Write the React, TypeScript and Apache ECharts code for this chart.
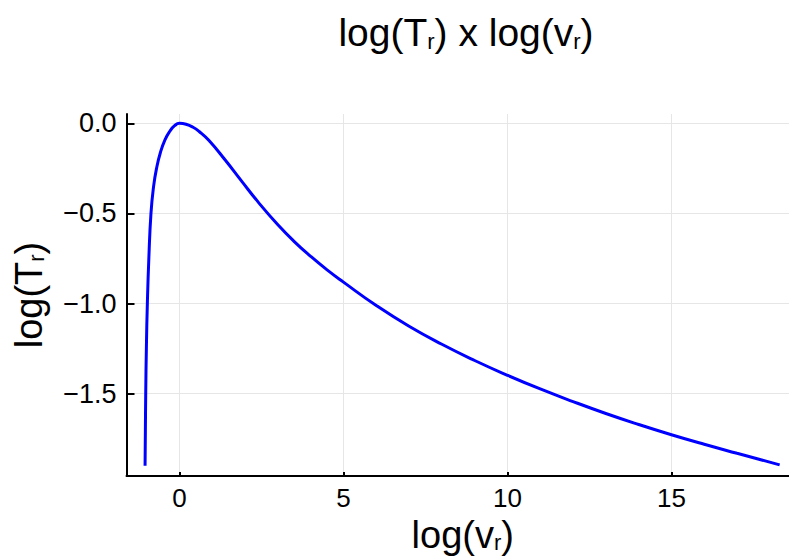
import React, { useEffect, useRef } from 'react';
import * as echarts from 'echarts';

// log(v_r) values
const logV = [
  -1.05, -1.04, -1.03, -1.01, -0.98, -0.935, -0.87, -0.79, -0.7, -0.58, -0.44, -0.3, -0.15, 0,
  0.2, 0.4, 0.6, 0.9, 1.4, 1.9, 2.4, 3.0, 3.5, 4.0, 4.5, 5.0, 6.0, 7.0, 8.0, 9.0, 10.0, 11.0, 12.0,
  13.0, 14.0, 15.0, 16.0, 17.0, 18.3,
];
// log(T_r) values
const logT = [
  -1.9, -1.7, -1.5, -1.25, -1.0, -0.75, -0.5, -0.35, -0.25, -0.16, -0.09, -0.045, -0.013, 0,
  -0.005, -0.02, -0.045, -0.095, -0.205, -0.322, -0.437, -0.563, -0.656, -0.738, -0.813, -0.881,
  -1.011, -1.126, -1.226, -1.316, -1.398, -1.474, -1.544, -1.61, -1.671, -1.728, -1.781, -1.831,
  -1.895,
];
const xTicks = [0, 5, 10, 15];
const yTicks = [-1.5, -1.0, -0.5, 0.0];

const FONT = 'Liberation Sans';

function richStyles(size: number, subSize: number) {
  return {
    a: { fontSize: size, fontFamily: FONT, fontWeight: 'normal', color: '#000', lineHeight: size },
    s: {
      fontSize: subSize,
      fontFamily: FONT,
      fontWeight: 'normal',
      color: '#000',
      lineHeight: subSize,
      verticalAlign: 'bottom',
    },
  };
}

export default function App() {
  const ref = useRef<HTMLDivElement>(null);
  useEffect(() => {
    document.body.style.margin = '0';
    const chart = echarts.init(ref.current!, null, { renderer: 'svg' });
    const minus = (s: string) => s.replace('-', '\u2212');
    chart.setOption({
      animation: false,
      backgroundColor: '#ffffff',
      title: {
        text: '{a|log(T}{s|r}{a|) x log(v}{s|r}{a|)}',
        left: 461,
        top: 8,
        textAlign: 'center',
        textStyle: { fontWeight: 'normal', rich: richStyles(39, 22) },
      },
      grid: {
        left: 126.5,
        top: 114,
        right: -10,
        bottom: 83,
        containLabel: false,
        outerBoundsMode: 'none',
      },
      xAxis: {
        type: 'value',
        min: -1.616,
        max: 18.89,
        name: '{a|log(v}{s|r}{a|)}',
        nameLocation: 'middle',
        nameGap: 37,
        nameTextStyle: { rich: richStyles(38, 22) },
        axisLine: { show: true, onZero: false, lineStyle: { color: '#000', width: 2 } },
        axisTick: { show: true, inside: true, length: 4, customValues: xTicks, lineStyle: { color: '#000', width: 2 } },
        axisLabel: {
          customValues: xTicks,
          fontSize: 26,
          fontFamily: FONT,
          color: '#000',
          margin: 9,
          formatter: (v: number) => minus(String(Math.round(v))),
        },
        splitLine: { show: true, lineStyle: { color: '#e6e6e6', width: 1 } },
      },
      yAxis: {
        type: 'value',
        min: -1.957,
        max: 0.052,
        name: '{a|log(T}{s|r}{a|)}',
        nameLocation: 'middle',
        nameGap: 79,
        nameTextStyle: { rich: richStyles(38, 22) },
        axisLine: { show: true, onZero: false, lineStyle: { color: '#000', width: 2 } },
        axisTick: { show: true, inside: true, length: 8, customValues: yTicks, lineStyle: { color: '#000', width: 2 } },
        axisLabel: {
          customValues: yTicks,
          fontSize: 27,
          fontFamily: FONT,
          color: '#000',
          margin: 10,
          formatter: (v: number) => minus(v.toFixed(1)),
        },
        splitLine: { show: true, lineStyle: { color: '#e6e6e6', width: 1 } },
      },
      series: [
        {
          type: 'line',
          data: logV.map((x, i) => [x, logT[i]]),
          showSymbol: false,
          smooth: 0.5,
          lineStyle: { color: '#0000ff', width: 3 },
        },
      ],
    });
    return () => chart.dispose();
  }, []);
  return <div ref={ref} style={{ width: 789, height: 559 }} />;
}
